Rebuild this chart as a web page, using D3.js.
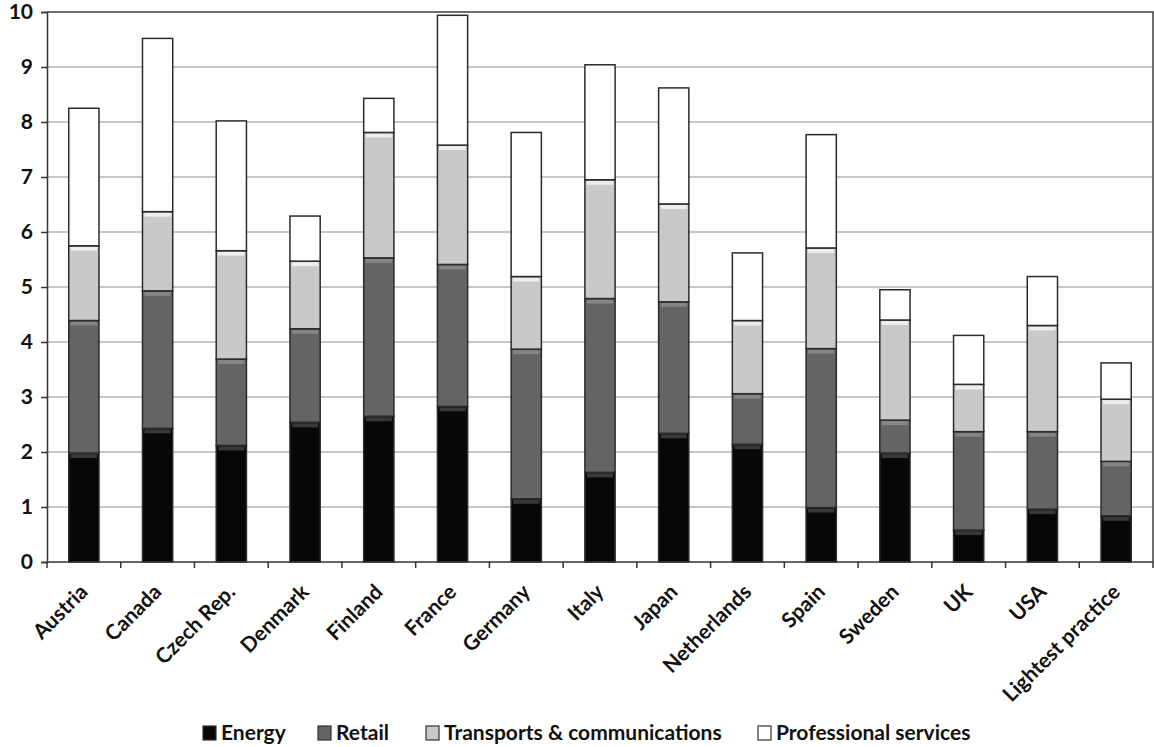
<!DOCTYPE html>
<html><head><meta charset="utf-8">
<script src="https://cdn.jsdelivr.net/npm/d3@7"></script>
<style>
html,body{margin:0;padding:0;background:#fff;}
svg{display:block;font-family:Lato,"Open Sans",sans-serif;font-weight:700;}
</style></head>
<body><svg id="chart" width="1154" height="747"></svg>
<script>
const categories = ["Austria","Canada","Czech Rep.","Denmark","Finland","France","Germany","Italy","Japan","Netherlands","Spain","Sweden","UK","USA","Lightest practice"];
const energy       = [1.98,2.43,2.12,2.54,2.65,2.83,1.15,1.63,2.34,2.14,0.99,1.98,0.58,0.96,0.84];
const retail       = [2.41,2.50,1.57,1.70,2.88,2.58,2.72,3.16,2.39,0.92,2.89,0.60,1.79,1.41,0.99];
const transport    = [1.36,1.44,1.97,1.23,2.28,2.17,1.32,2.16,1.78,1.33,1.83,1.82,0.86,1.93,1.13];
const professional = [2.50,3.15,2.36,0.82,0.62,2.36,2.62,2.09,2.11,1.23,2.06,0.55,0.89,0.89,0.66];
const seriesNames  = ["Energy","Retail","Transports & communications","Professional services"];
const seriesColors = ["#070707","#646464","#c9c9c9","#ffffff"];
const bevelColors  = ["#383838","#858585","#eeeeee","#ffffff"];
const yTickValues  = [0,1,2,3,4,5,6,7,8,9,10];

const svg = d3.select("#chart");
const mLeft = 47, mRight = 1153, mTop = 12, mBottom = 562;

const rows = categories.map((c,i)=>({cat:c, s0:energy[i], s1:retail[i], s2:transport[i], s3:professional[i]}));
const keys = ["s0","s1","s2","s3"];
const stacked = d3.stack().keys(keys)(rows);

const x = d3.scaleBand().domain(categories).range([mLeft,mRight]).paddingInner(0.59).paddingOuter(0.295);
const y = d3.scaleLinear().domain([0,10]).range([mBottom,mTop]);

// gridlines
svg.append("g").selectAll("line").data(yTickValues.filter(v=>v>0 && v<10)).join("line")
  .attr("x1",mLeft).attr("x2",mRight).attr("y1",d=>y(d)).attr("y2",d=>y(d))
  .attr("stroke","#b4b4b4").attr("stroke-width",1.5);

// plot border (top & right)
svg.append("path")
  .attr("d",`M${mLeft},${y(10)}H${mRight}V${y(0)}`)
  .attr("fill","none").attr("stroke","#404040").attr("stroke-width",1.5);

// bars
const g = svg.append("g");
stacked.forEach((layer,si)=>{
  const lg = g.append("g");
  lg.selectAll("rect.seg").data(layer).join("rect").attr("class","seg")
    .attr("x",d=>x(d.data.cat)).attr("width",x.bandwidth())
    .attr("y",d=>y(d[1])).attr("height",d=>y(d[0])-y(d[1]))
    .attr("fill",seriesColors[si]);
  lg.selectAll("rect.bev").data(layer).join("rect").attr("class","bev")
    .attr("x",d=>x(d.data.cat)+2).attr("width",x.bandwidth()-4)
    .attr("y",d=>y(d[1])+1).attr("height",d=>Math.max(0,Math.min(4,y(d[0])-y(d[1])-1)))
    .attr("fill",bevelColors[si]);
  lg.selectAll("rect.out").data(layer).join("rect").attr("class","out")
    .attr("x",d=>x(d.data.cat)).attr("width",x.bandwidth())
    .attr("y",d=>y(d[1])).attr("height",d=>y(d[0])-y(d[1]))
    .attr("fill","none").attr("stroke","#2b2b2b").attr("stroke-width",1.5);
});

// y axis
const yAxis = svg.append("g").attr("transform",`translate(${mLeft},0)`)
  .call(d3.axisLeft(y).tickValues(yTickValues).tickSize(6).tickPadding(8).tickFormat(d3.format("d")));
yAxis.select(".domain").attr("stroke","#333").attr("stroke-width",1.5);
yAxis.selectAll(".tick line").attr("stroke","#333").attr("stroke-width",1.5);
yAxis.selectAll("text").attr("font-size",21).attr("font-family","Lato").attr("font-weight",700).attr("fill","#111");

// x axis
const step = x.step();
const boundaries = d3.range(categories.length+1).map(i=>x.range()[0]+i*step);
svg.append("line").attr("x1",mLeft).attr("x2",mRight).attr("y1",y(0)).attr("y2",y(0))
  .attr("stroke","#333").attr("stroke-width",1.5);
svg.append("g").selectAll("line").data(boundaries).join("line")
  .attr("x1",d=>d).attr("x2",d=>d).attr("y1",y(0)).attr("y2",y(0)+6)
  .attr("stroke","#333").attr("stroke-width",1.5);
svg.append("g").selectAll("text").data(categories).join("text")
  .attr("transform",d=>`translate(${x(d)+x.bandwidth()/2},${y(0)+26}) rotate(-45)`)
  .attr("text-anchor","end").attr("dy","0.35em")
  .attr("font-size",21).attr("fill","#111").text(d=>d);

// legend
const legendX = [203,318,426,758];
const lgd = svg.append("g");
seriesNames.forEach((n,i)=>{
  lgd.append("rect").attr("x",legendX[i]).attr("y",726).attr("width",13).attr("height",14)
    .attr("fill",seriesColors[i]).attr("stroke","#333").attr("stroke-width",1.2);
  lgd.append("text").attr("x",legendX[i]+18).attr("y",733).attr("dy","0.35em")
    .attr("font-size",21).attr("fill","#111").text(n);
});
</script></body></html>
